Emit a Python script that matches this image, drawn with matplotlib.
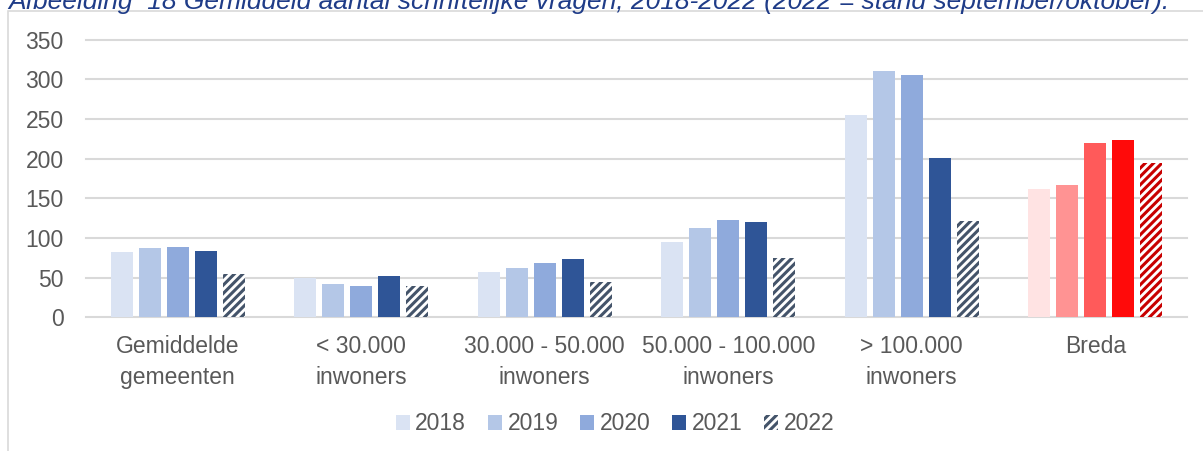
import matplotlib
matplotlib.use("Agg")
import matplotlib.pyplot as plt
from matplotlib.patches import Rectangle
import numpy as np

plt.rcParams["font.family"] = ["Liberation Sans", "DejaVu Sans"]
plt.rcParams["hatch.linewidth"] = 2.2

# Data
categories = ["Gemiddelde\ngemeenten", "< 30.000\ninwoners", "30.000 - 50.000\ninwoners",
              "50.000 - 100.000\ninwoners", "> 100.000\ninwoners", "Breda"]
years = ["2018", "2019", "2020", "2021", "2022"]
v2018 = [82, 49, 57, 95, 255, 162]
v2019 = [87, 42, 62, 112, 311, 167]
v2020 = [89, 40, 68, 123, 306, 220]
v2021 = [83, 52, 73, 120, 201, 223]
v2022 = [54, 39, 44, 75, 122, 194]
series = [v2018, v2019, v2020, v2021, v2022]

blue_colors = ["#DAE3F3", "#B4C7E7", "#8FAADC", "#2F5597", "white"]
red_colors = ["#FFE3E3", "#FF9393", "#FF5A5A", "#FF0A0A", "white"]
blue_hatch = "#44546A"
red_hatch = "#C80000"

text_color = "#595959"
grid_color = "#D9D9D9"
fs = 16.5

fig = plt.figure(figsize=(12.03, 4.51), dpi=100)
ax = fig.add_axes([86 / 1203, 1 - 317.3 / 451, (1187 - 86) / 1203, (317.3 - 39.7) / 451])

x = np.arange(len(categories))
pitch = 0.1526
width = 0.118
for j, (yr, vals) in enumerate(zip(years, series)):
    colors = [blue_colors[j]] * 5 + [red_colors[j]]
    if yr == "2022":
        edges = [blue_hatch] * 5 + [red_hatch]
        ax.bar(x + (j - 2) * pitch, vals, width, color=colors, edgecolor=edges,
               linewidth=0, hatch="////", label=yr, zorder=3)
    else:
        ax.bar(x + (j - 2) * pitch, vals, width, color=colors, linewidth=0,
               label=yr, zorder=3)

ax.set_xlim(-0.5, len(categories) - 0.5)
ax.set_ylim(0, 350)
ax.set_yticks(range(0, 351, 50))
ax.set_xticks(x)
ax.set_xticklabels(categories, linespacing=1.4)
ax.yaxis.grid(True, color=grid_color, linewidth=1.5, zorder=0)
for gl in ax.get_ygridlines():
    gl.set_clip_on(False)
for s in ax.spines.values():
    s.set_visible(False)
ax.tick_params(axis="y", length=0, pad=16, labelsize=fs, labelcolor=text_color)
ax.tick_params(axis="x", length=0, pad=13, labelsize=fs, labelcolor=text_color)

fig.legend(loc="center", bbox_to_anchor=(615 / 1203, 1 - 424 / 451), ncol=5,
           frameon=False, fontsize=fs, labelcolor=text_color,
           handlelength=0.6, handleheight=0.6, handletextpad=0.25, columnspacing=0.95)

# chart frame (only top and left edges visible)
fig.patches.append(Rectangle((8 / 1203, -0.1), 1.2, 1 - 11 / 451 + 0.1,
                             transform=fig.transFigure, fill=False,
                             edgecolor=grid_color, linewidth=1.2))

fig.text(8 / 1203, 1 - 9 / 451,
         "Afbeelding  18 Gemiddeld aantal schriftelijke vragen, 2018-2022 (2022 = stand september/oktober).",
         ha="left", va="baseline", fontsize=19, style="italic", color="#1F3C88")

fig.savefig("out.png", dpi=100)
